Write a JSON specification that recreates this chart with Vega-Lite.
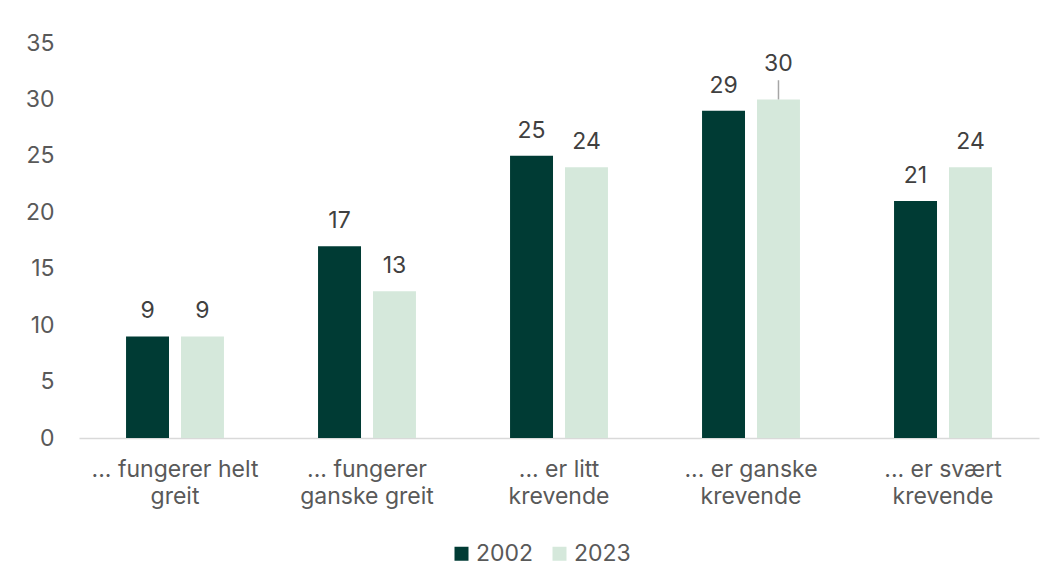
{
  "$schema": "https://vega.github.io/schema/vega-lite/v6.json",
  "width": 960,
  "height": 395,
  "autosize": {"type": "none"},
  "padding": {"left": 79, "top": 43, "right": 16, "bottom": 143},
  "background": "white",
  "config": {
    "view": {"stroke": null},
    "font": "Inter",
    "axis": {"labelFont": "Inter", "labelColor": "#595959", "grid": false, "ticks": false}
  },
  "data": {
    "values": [
      {"kategori": "... fungerer helt|greit", "år": "2002", "andel": 9},
      {"kategori": "... fungerer helt|greit", "år": "2023", "andel": 9},
      {"kategori": "... fungerer|ganske greit", "år": "2002", "andel": 17},
      {"kategori": "... fungerer|ganske greit", "år": "2023", "andel": 13},
      {"kategori": "... er litt|krevende", "år": "2002", "andel": 25},
      {"kategori": "... er litt|krevende", "år": "2023", "andel": 24},
      {"kategori": "... er ganske|krevende", "år": "2002", "andel": 29},
      {"kategori": "... er ganske|krevende", "år": "2023", "andel": 30},
      {"kategori": "... er svært|krevende", "år": "2002", "andel": 21},
      {"kategori": "... er svært|krevende", "år": "2023", "andel": 24}
    ]
  },
  "encoding": {
    "x": {
      "field": "kategori", "type": "nominal", "sort": null,
      "scale": {"paddingInner": 0.49, "paddingOuter": 0.245},
      "axis": {"title": null, "labelAngle": 0, "labelFontSize": 23, "labelPadding": 20,
               "labelExpr": "split(datum.label, '|')", "labelLineHeight": 27,
               "domain": true, "domainColor": "#D9D9D9", "domainWidth": 1.5, "labelBaseline": "top"}
    },
    "xOffset": {"field": "år", "type": "nominal", "scale": {"paddingInner": 0.218, "paddingOuter": 0}},
    "y": {
      "field": "andel", "type": "quantitative",
      "scale": {"domain": [0, 35], "nice": false},
      "axis": {"title": null, "values": [0, 5, 10, 15, 20, 25, 30, 35], "labelFontSize": 23,
               "labelPadding": 25, "domain": false}
    }
  },
  "layer": [
    {
      "mark": {"type": "bar"},
      "encoding": {
        "color": {
          "field": "år", "type": "nominal",
          "scale": {"domain": ["2002", "2023"], "range": ["#003B34", "#D5E8DB"]},
          "legend": {"title": null, "orient": "none", "direction": "horizontal",
                     "legendX": 371, "legendY": 499, "symbolType": "square", "symbolSize": 196,
                     "symbolStrokeWidth": 0, "labelFontSize": 23, "labelColor": "#595959",
                     "labelOffset": 3, "columnPadding": 14, "padding": 0}
        }
      }
    },
    {
      "transform": [{"filter": "!(datum.andel == 30)"}],
      "mark": {"type": "text", "baseline": "alphabetic", "dy": -18, "fontSize": 23, "color": "#404040"},
      "encoding": {"text": {"field": "andel", "type": "quantitative"}}
    },
    {
      "transform": [{"filter": "datum.andel == 30"}],
      "mark": {"type": "text", "baseline": "alphabetic", "dy": -28, "fontSize": 23, "color": "#404040"},
      "encoding": {"text": {"field": "andel", "type": "quantitative"}}
    },
    {
      "transform": [{"filter": "datum.andel == 30"}],
      "mark": {"type": "rule", "color": "#A6A6A6", "strokeWidth": 1.5},
      "encoding": {"y2": {"datum": 31.7}}
    }
  ]
}
